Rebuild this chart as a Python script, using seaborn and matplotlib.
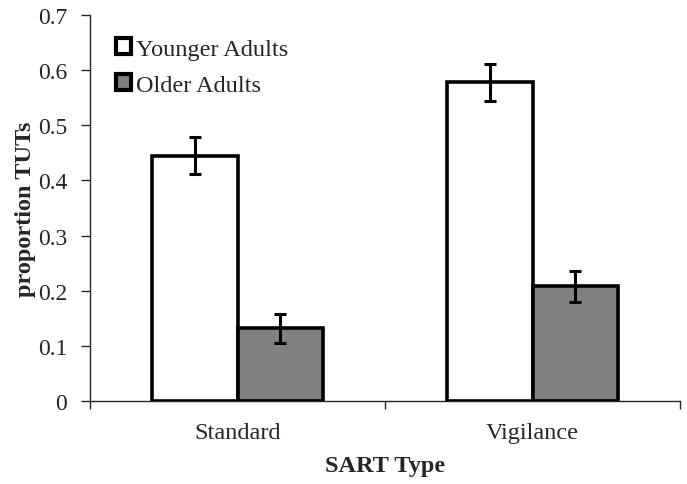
import matplotlib
matplotlib.use("Agg")
import matplotlib.pyplot as plt
import seaborn as sns
import pandas as pd
from matplotlib.ticker import FixedLocator, NullFormatter

# --- Données ---
sart_types = ["Standard", "Vigilance"]
groups = ["Younger Adults", "Older Adults"]
younger = [0.445, 0.578]
older = [0.132, 0.208]
younger_err = [0.033, 0.034]
older_err = [0.026, 0.028]

df = pd.DataFrame({
    "SART Type": sart_types * 2,
    "group": [groups[0]] * 2 + [groups[1]] * 2,
    "prop": younger + older,
})
errs = {groups[0]: younger_err, groups[1]: older_err}

# --- Affichage ---
sns.set_style("ticks")
plt.rcParams["font.family"] = ["Liberation Serif", "DejaVu Serif"]

fig, ax = plt.subplots(figsize=(6.87, 4.85), dpi=100)
sns.barplot(
    data=df, x="SART Type", y="prop", hue="group", hue_order=groups,
    palette=["white", "#808080"], edgecolor="black", linewidth=2.6,
    width=0.58, errorbar=None, ax=ax
)

for cont, g in zip(ax.containers, groups):
    xs = [b.get_x() + b.get_width() / 2 for b in cont]
    ys = [b.get_height() for b in cont]
    ax.errorbar(xs, ys, yerr=errs[g], fmt="none", ecolor="black",
                elinewidth=2.2, capsize=4, capthick=2.2, zorder=5)

ax.set_ylim(0, 0.7)
ax.set_yticks([0, 0.1, 0.2, 0.3, 0.4, 0.5, 0.6, 0.7])
ax.set_yticklabels(["0", "0.1", "0.2", "0.3", "0.4", "0.5", "0.6", "0.7"])
ax.set_xlim(-0.5, 1.5)
ax.tick_params(axis="x", which="major", length=0, pad=15, labelsize=17.5)
ax.xaxis.set_minor_locator(FixedLocator([-0.5, 0.5, 1.5]))
ax.xaxis.set_minor_formatter(NullFormatter())
ax.tick_params(axis="x", which="minor", length=6, width=1, direction="out")
ax.tick_params(axis="y", length=6.5, width=1, direction="out", pad=10,
               labelsize=17)

sns.despine(ax=ax)
for s in ["left", "bottom"]:
    ax.spines[s].set_linewidth(1)

ax.set_xlabel("SART Type", fontsize=17.5, fontweight="bold")
ax.set_ylabel("proportion TUTs", fontsize=17.5, fontweight="bold")
ax.xaxis.set_label_coords(0.5, -0.14)
ax.yaxis.set_label_coords(-0.092, 0.5)

leg = ax.legend(loc="upper left", bbox_to_anchor=(0.044, 0.94), frameon=False,
                fontsize=17.5, handlelength=0.62, handleheight=0.62,
                handletextpad=0.2, labelspacing=0.6, borderpad=0,
                borderaxespad=0)
for h in leg.legend_handles:
    h.set_linewidth(3)

fig.subplots_adjust(left=0.131, right=0.99, top=0.967, bottom=0.171)
fig.savefig("out.png", dpi=100)
